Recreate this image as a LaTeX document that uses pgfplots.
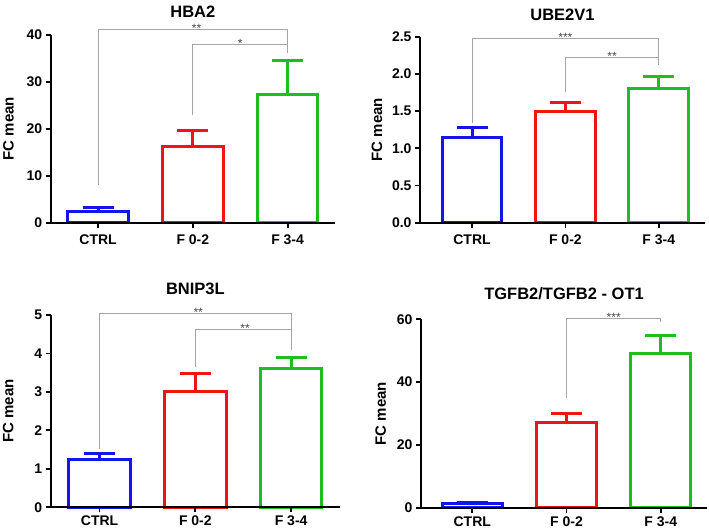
\documentclass[border=0pt]{standalone}
\usepackage{fontspec}
\setmainfont{Liberation Sans}
\usepackage{pgfplots}
\pgfplotsset{compat=1.18}
\definecolor{cblue}{RGB}{20,20,235}
\definecolor{cred}{RGB}{240,20,20}
\definecolor{cgreen}{RGB}{30,190,30}
\definecolor{cgray}{RGB}{165,165,165}
\definecolor{cstar}{RGB}{70,70,70}
\tikzset{sigstar/.style={font=\fontsize{12}{12}\selectfont, text=cstar, anchor=base, inner sep=0pt, yshift=-3pt}}
\pgfplotsset{
  panel/.style={
    scale only axis, axis on top, clip=false,
    axis x line=bottom, axis y line=left,
    axis line style={-, line width=1.8pt, black},
    tick style={line width=1.8pt, black},
    major tick length=5pt, tick align=outside,
    xtick={0,1,2}, xticklabels={CTRL,F 0-2,F 3-4},
    ymin=0,
    /pgf/number format/assume math mode=true,
    ticklabel style={font=\fontsize{14}{14}\selectfont\bfseries},
    ylabel={FC mean},
    ylabel style={font=\fontsize{15}{15}\selectfont\bfseries, anchor=center},
    title style={font=\fontsize{16.5}{16.5}\selectfont\bfseries, at={(0.5,1)}, anchor=center},
  },
  bracket/.style={sharp plot, no marks, cgray, line width=1pt},
}
\newcommand{\fcbar}[4]{\addplot[ybar, bar width=0.64, bar shift=0pt, draw=#1, fill=white, line width=3pt,
  error bars/.cd, y dir=plus, y explicit, error mark=|,
  error bar style={line width=3pt, draw=#1},
  error mark options={line width=3pt, draw=#1, mark size=15.5pt}]
  coordinates {(#2,#3) +- (0,#4)};}
\begin{document}
\begin{tikzpicture}
\path[use as bounding box] (0,0) rectangle (709pt,530pt);
% HBA2
\begin{axis}[panel, at={(50.7pt,307.3pt)}, anchor=south west,
  width=284.3pt, height=188pt, xmin=-0.5, xmax=2.5, ymax=40,
  xticklabel style={yshift=-3pt},
  ytick={0,10,20,30,40}, title={HBA2}, title style={yshift=17pt},
  ylabel style={at={(axis description cs:-0.149,0.5)}}]
\fcbar{cblue}{0}{2.4}{0.9}
\fcbar{cred}{1}{16.3}{3.4}
\fcbar{cgreen}{2}{27.3}{7.3}
\addplot[bracket] coordinates {(0,8.0) (0,41.1) (2,41.1) (2,36.2)};
\addplot[bracket] coordinates {(1,22.9) (1,38.0) (2,38.0)};
\node[sigstar] at (axis cs:1.04,41.1) {**};
\node[sigstar] at (axis cs:1.5,38.0) {*};
\end{axis}
% UBE2V1
\begin{axis}[panel, at={(420pt,307.3pt)}, anchor=south west,
  width=285pt, height=186pt, xmin=-0.557, xmax=2.495, ymax=2.5,
  xticklabel style={yshift=-3pt},
  ytick={0,0.5,1,1.5,2,2.5},
  yticklabel style={/pgf/number format/.cd, fixed, fixed zerofill, precision=1},
  title={UBE2V1}, title style={yshift=16pt},
  ylabel style={at={(axis description cs:-0.151,0.5)}}]
\fcbar{cblue}{0}{1.15}{0.13}
\fcbar{cred}{1}{1.50}{0.12}
\fcbar{cgreen}{2}{1.81}{0.15}
\addplot[bracket] coordinates {(0,1.34) (0,2.47) (2,2.47) (2,2.12)};
\addplot[bracket] coordinates {(1,1.75) (1,2.22) (2,2.22)};
\node[sigstar] at (axis cs:1,2.47) {***};
\node[sigstar] at (axis cs:1.5,2.22) {**};
\end{axis}
% BNIP3L
\begin{axis}[panel, at={(50.7pt,22.7pt)}, anchor=south west,
  width=289.3pt, height=192.3pt, xmin=-0.51, xmax=2.51, ymax=5,
  ytick={0,1,2,3,4,5}, title={BNIP3L}, title style={yshift=20pt},
  ylabel style={at={(axis description cs:-0.147,0.5)}}]
\fcbar{cblue}{0}{1.25}{0.14}
\fcbar{cred}{1}{3.02}{0.45}
\fcbar{cgreen}{2}{3.60}{0.29}
\addplot[bracket] coordinates {(0,1.52) (0,5.04) (2,5.04) (2,4.09)};
\addplot[bracket] coordinates {(1,3.66) (1,4.63) (2,4.63)};
\node[sigstar] at (axis cs:1.03,5.04) {**};
\node[sigstar] at (axis cs:1.52,4.63) {**};
\end{axis}
% TGFB2
\begin{axis}[panel, at={(421pt,22.3pt)}, anchor=south west,
  width=286pt, height=188.4pt, xmin=-0.544, xmax=2.49, ymax=60,
  ytick={0,20,40,60}, title={TGFB2/TGFB2 - OT1}, title style={yshift=20pt},
  ylabel style={at={(axis description cs:-0.141,0.5)}}]
\fcbar{cblue}{0}{1.4}{0.4}
\fcbar{cred}{1}{27.1}{3.0}
\fcbar{cgreen}{2}{49.2}{5.8}
\addplot[bracket] coordinates {(1,34.9) (1,60.2) (2,60.2) (2,59.1)};
\node[sigstar] at (axis cs:1.5,60.2) {***};
\end{axis}
\end{tikzpicture}
\end{document}
